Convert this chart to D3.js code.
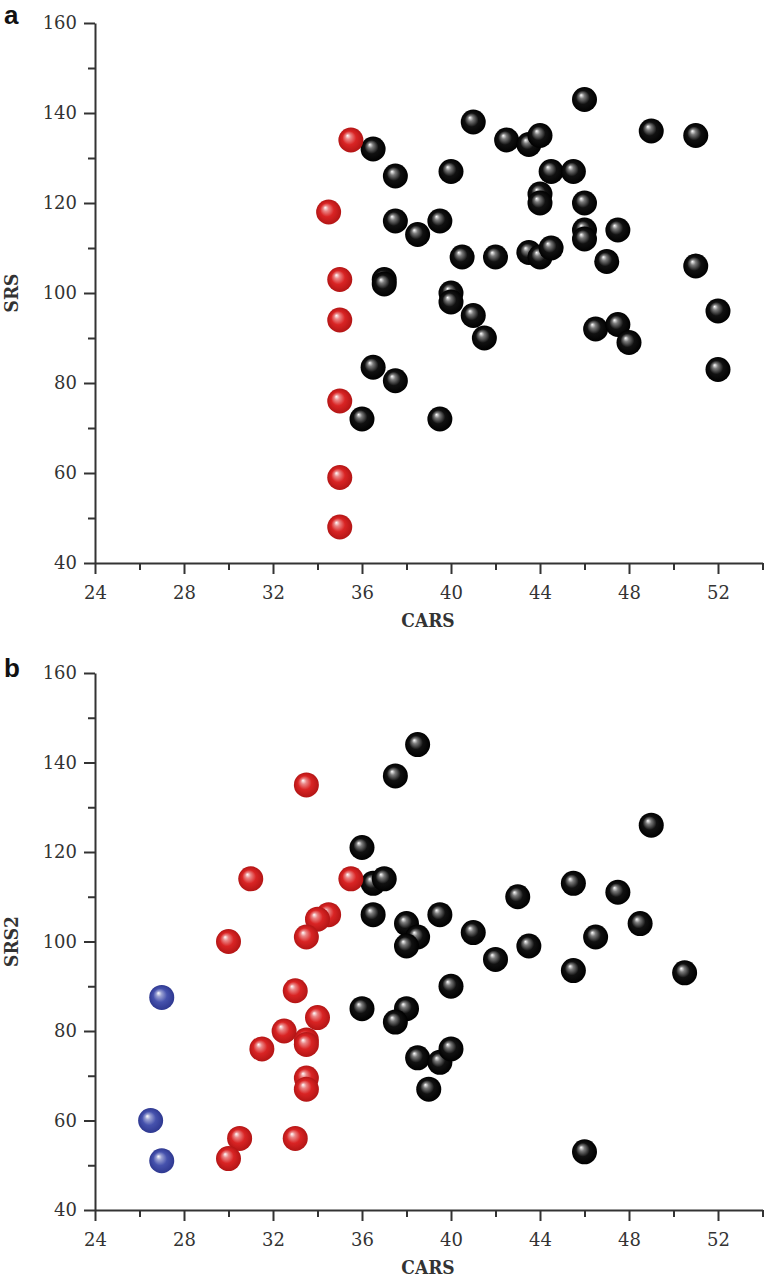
<!DOCTYPE html>
<html>
<head>
<meta charset="utf-8">
<script src="https://cdn.jsdelivr.net/npm/d3@7"></script>
<style>
  body { margin: 0; background: #fff; }
  svg { display: block; }
  .tick text { font-family: "DejaVu Serif", serif; font-size: 18px; fill: #333; }
  .axis path, .axis line { stroke: #333; stroke-width: 2px; }
  .title { font-family: "DejaVu Serif", serif; font-size: 19px; font-weight: bold; fill: #333; font-stretch: condensed; }
  .letter { font-family: "Liberation Sans", Arial, sans-serif; font-size: 26px; font-weight: bold; fill: #111; }
</style>
</head>
<body>
<div id="chart"></div>
<script>
// panel a: CARS vs SRS
const aRedX   = [35.5, 34.5, 35, 35, 35, 35, 35];
const aRedY   = [134, 118, 103, 94, 76, 59, 48];
const aBlackX = [36.5, 37.5, 37.5, 38.5, 39.5, 40, 41, 42.5, 43.5, 44, 46, 49, 51,
                 44, 44, 44.5, 45.5, 46, 46, 46, 47.5, 47, 43.5, 44, 44.5, 40.5, 42,
                 37, 37, 40, 40, 41, 41.5, 46.5, 47.5, 48, 51, 52, 52, 36.5, 37.5, 36, 39.5];
const aBlackY = [132, 126, 116, 113, 116, 127, 138, 134, 133, 135, 143, 136, 135,
                 122, 120, 127, 127, 120, 114, 112, 114, 107, 109, 108, 110, 108, 108,
                 103, 102, 100, 98, 95, 90, 92, 93, 89, 106, 96, 83, 83.5, 80.5, 72, 72];

// panel b: CARS vs SRS2
const bRedX   = [33.5, 31, 35.5, 34.5, 34, 33.5, 30, 33, 34, 32.5, 33.5, 33.5, 31.5, 33.5, 33.5, 30.5, 33, 30];
const bRedY   = [135, 114, 114, 106, 105, 101, 100, 89, 83, 80, 78, 77, 76, 69.5, 67, 56, 56, 51.5];
const bBlueX  = [27, 26.5, 27];
const bBlueY  = [87.5, 60, 51];
const bBlackX = [38.5, 37.5, 36, 49, 36.5, 37, 36.5, 38, 38.5, 38, 39.5, 41, 42, 43, 43.5,
                 45.5, 45.5, 46.5, 47.5, 48.5, 50.5, 46, 36, 38, 37.5, 40, 38.5, 39.5, 40, 39];
const bBlackY = [144, 137, 121, 126, 113, 114, 106, 104, 101, 99, 106, 102, 96, 110, 99,
                 113, 93.5, 101, 111, 104, 93, 53, 85, 85, 82, 90, 74, 73, 76, 67];

const xTicks = [24, 28, 32, 36, 40, 44, 48, 52];
const xMinor = [26, 30, 34, 38, 42, 46, 50, 54];
const yTicks = [40, 60, 80, 100, 120, 140, 160];
const yMinor = [50, 70, 90, 110, 130, 150];

const W = 766, H = 1281;
const svg = d3.select("#chart").append("svg").attr("width", W).attr("height", H);

// glossy sphere gradients
const defs = svg.append("defs");
function sphere(id, mid, edge) {
    const g = defs.append("radialGradient").attr("id", id)
        .attr("cx", "50%").attr("cy", "50%").attr("r", "50%")
        .attr("fx", "36%").attr("fy", "32%");
    g.append("stop").attr("offset", "0%").attr("stop-color", "#ffffff");
    g.append("stop").attr("offset", "22%").attr("stop-color", d3.interpolateRgb("#ffffff", mid)(0.55));
    g.append("stop").attr("offset", "55%").attr("stop-color", mid);
    g.append("stop").attr("offset", "100%").attr("stop-color", edge);
}
sphere("ballBlack", "#111111", "#000000");
sphere("ballRed", "#d92424", "#b31515");
sphere("ballBlue", "#4652ad", "#2e3890");

const x = d3.scaleLinear().domain([24, 54]).range([95, 762.5]);

function drawPanel(top, bottom, yLabel, letter, letterY, groups) {
    const y = d3.scaleLinear().domain([40, 160]).range([bottom, top]);
    const g = svg.append("g");

    // minor ticks
    g.append("g").attr("class", "axis")
        .attr("transform", `translate(0,${bottom})`)
        .call(d3.axisBottom(x).tickValues(xMinor).tickSize(7).tickFormat(""))
        .call(s => s.select(".domain").remove());
    g.append("g").attr("class", "axis")
        .attr("transform", `translate(95,0)`)
        .call(d3.axisLeft(y).tickValues(yMinor).tickSize(7).tickFormat(""))
        .call(s => s.select(".domain").remove());

    // major axes
    g.append("g").attr("class", "axis")
        .attr("transform", `translate(0,${bottom})`)
        .call(d3.axisBottom(x).tickValues(xTicks).tickSize(11).tickSizeOuter(0))
        .call(s => s.selectAll(".tick text").attr("y", 30).attr("dy", "0.36em"));
    g.append("g").attr("class", "axis")
        .attr("transform", `translate(95,0)`)
        .call(d3.axisLeft(y).tickValues(yTicks).tickSize(11).tickSizeOuter(0).tickPadding(7));

    g.append("text").attr("class", "title")
        .attr("x", 428).attr("y", bottom + 59)
        .attr("text-anchor", "middle").attr("dominant-baseline", "middle")
        .text("CARS");
    g.append("text").attr("class", "title")
        .attr("transform", `translate(13,${(top + bottom) / 2}) rotate(-90)`)
        .attr("text-anchor", "middle").attr("dominant-baseline", "middle")
        .text(yLabel);
    g.append("text").attr("class", "letter")
        .attr("x", 4).attr("y", letterY)
        .text(letter);

    // balls
    groups.forEach(grp => {
        g.append("g").selectAll("circle")
            .data(d3.range(grp.xs.length))
            .enter()
            .append("circle")
            .attr("cx", i => x(grp.xs[i]))
            .attr("cy", i => y(grp.ys[i]))
            .attr("r", 12.5)
            .attr("fill", `url(#${grp.fill})`);
    });
}

drawPanel(23, 563, "SRS", "a", 24, [
    { xs: aBlackX, ys: aBlackY, fill: "ballBlack" },
    { xs: aRedX, ys: aRedY, fill: "ballRed" }
]);
drawPanel(673, 1210, "SRS2", "b", 677, [
    { xs: bBlackX, ys: bBlackY, fill: "ballBlack" },
    { xs: bRedX, ys: bRedY, fill: "ballRed" },
    { xs: bBlueX, ys: bBlueY, fill: "ballBlue" }
]);
</script>
</body>
</html>
